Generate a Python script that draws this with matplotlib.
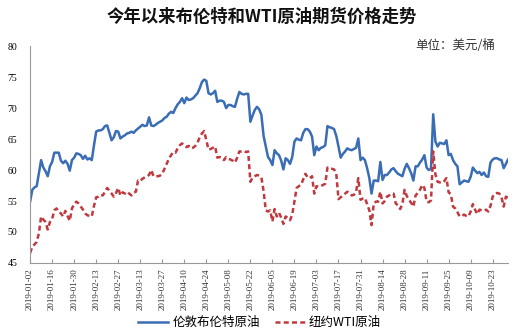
import numpy as np
import pandas as pd
import matplotlib
matplotlib.use('Agg')
import matplotlib.pyplot as plt

plt.rcParams['font.family'] = ['Noto Sans CJK SC', 'DejaVu Sans']

# trading days (weekdays) from 2019-01-02
dates = pd.bdate_range('2019-01-02', periods=218)

brent = [
    54.9, 56.8, 57.2, 57.4, 59.5, 61.6, 60.4, 59.8, 59.0, 60.6,
    61.3, 62.8, 62.8, 62.8, 61.5, 61.1, 61.5, 61.0, 59.9, 61.6,
    62.0, 62.7, 62.6, 62.4, 61.8, 62.3, 61.7, 61.9, 61.6, 64.0,
    66.2, 66.4, 66.4, 66.6, 67.1, 67.2, 66.0, 64.8, 65.3, 66.3,
    66.2, 65.1, 65.4, 65.6, 65.9, 66.0, 66.2, 66.0, 66.4, 66.7,
    67.0, 67.3, 67.1, 67.2, 68.5, 67.2, 67.1, 67.3, 67.6, 67.8,
    68.0, 68.4, 68.6, 69.1, 69.4, 69.2, 70.0, 70.6, 71.0, 71.6,
    70.8, 71.7, 71.3, 71.4, 71.6, 72.0, 72.4, 73.2, 74.2, 74.6,
    74.4, 72.4, 72.2, 72.4, 72.8, 71.0, 71.2, 71.2, 71.0, 70.0,
    70.5, 70.5, 70.3, 70.2, 71.5, 72.6, 72.3, 72.2, 72.3, 72.3,
    67.8, 68.8, 69.7, 70.2, 69.8, 68.9, 65.5, 63.8, 62.1, 61.6,
    60.8, 63.2, 62.7, 62.4, 61.5, 60.1, 61.9, 61.6, 61.0, 62.1,
    64.6, 65.1, 64.9, 64.8, 66.0, 66.6, 66.6, 66.2, 65.4, 62.4,
    63.8, 63.2, 63.6, 63.7, 64.0, 67.1, 66.9, 66.8, 66.6, 65.5,
    63.8, 62.0, 62.6, 63.0, 63.5, 63.3, 63.2, 63.4, 63.6, 65.1,
    61.6, 62.0, 61.6, 60.3, 58.7, 56.2, 58.3, 58.3, 58.2, 61.3,
    58.4, 59.2, 59.2, 59.6, 60.1, 60.3, 59.8, 59.4, 59.2, 59.0,
    60.2, 61.0, 60.3, 59.5, 58.3, 60.6, 60.6, 61.2, 61.7, 62.4,
    60.4, 60.0, 60.2, 69.0, 64.6, 63.8, 64.4, 64.3, 64.2, 64.8,
    62.4, 62.6, 61.6, 61.0, 60.6, 57.7, 58.0, 58.3, 58.2, 58.1,
    58.9, 60.4, 59.9, 59.5, 59.7, 59.2, 59.6, 59.0, 58.9, 61.2,
    61.7, 61.9, 61.9, 61.7, 61.6, 60.3, 61.0, 61.7,
]

wti = [
    46.6, 47.6, 48.0, 48.4, 49.8, 52.5, 52.0, 51.6, 50.4, 51.6,
    52.1, 53.5, 53.8, 53.2, 53.0, 52.5, 53.4, 52.6, 51.8, 53.8,
    54.5, 54.9, 54.6, 54.1, 53.6, 53.0, 52.7, 52.6, 52.5, 54.2,
    55.6, 55.7, 56.0, 55.9, 56.5, 57.1, 56.7, 56.2, 55.7, 56.3,
    57.1, 55.9, 56.4, 56.2, 56.5, 56.2, 55.9, 56.3, 56.5, 58.3,
    58.2, 58.6, 58.8, 59.0, 59.2, 60.0, 59.0, 59.0, 59.0, 59.1,
    59.4, 60.2, 61.0, 61.8, 62.4, 62.9, 62.8, 63.5, 64.0, 64.3,
    64.0, 63.7, 63.9, 63.5, 63.6, 63.9, 64.4, 65.3, 65.9, 66.3,
    64.8, 63.3, 63.4, 63.6, 63.8, 62.0, 62.1, 62.0, 61.6, 62.1,
    61.8, 61.7, 61.5, 61.2, 62.0, 63.0, 63.0, 63.1, 62.9, 63.0,
    58.1, 58.8, 59.0, 59.2, 59.1, 58.8, 56.6, 53.5, 53.3, 53.5,
    51.7, 53.7, 52.5, 53.1, 52.3, 51.3, 52.5, 52.3, 51.9, 52.8,
    55.0, 57.1, 57.4, 57.6, 58.5, 59.4, 58.8, 58.7, 59.0, 56.2,
    57.4, 57.3, 57.4, 57.6, 57.8, 60.4, 60.2, 60.2, 60.1, 59.4,
    55.3, 55.6, 55.9, 56.2, 56.5, 56.3, 55.9, 56.0, 56.5, 58.7,
    55.2, 55.4, 55.5, 54.5, 53.5, 51.1, 54.6, 54.9, 54.9, 56.5,
    54.6, 55.0, 55.7, 55.9, 56.2, 56.2, 54.6, 54.3, 53.7, 54.5,
    56.8, 55.8, 55.2, 54.7, 54.1, 55.9, 56.3, 56.8, 57.6, 57.1,
    54.9, 54.8, 55.1, 63.0, 59.3, 58.1, 58.0, 57.9, 58.2, 58.7,
    56.4, 56.1, 54.1, 53.8, 53.2, 52.5, 52.6, 52.8, 52.6, 52.5,
    53.3, 54.5, 53.6, 52.9, 53.6, 53.5, 53.4, 53.6, 53.3, 54.2,
    55.7, 56.2, 56.3, 56.2, 55.6, 54.1, 55.7, 55.5,
]

x = np.arange(len(dates))

fig = plt.figure(figsize=(5.19, 3.32), dpi=100)
ax = fig.add_axes([0.058, 0.208, 0.921, 0.653])

ax.plot(x, brent, color='#3a6db5', lw=1.8, label='伦敦布伦特原油')
ax.plot(x, wti, color='#c0393f', lw=1.8, ls=(0, (2.0, 1.3)), label='纽约WTI原油')

ax.set_xlim(0, 217)
ax.set_ylim(45, 80)
ax.set_yticks(range(45, 81, 5))
ax.tick_params(axis='y', length=0, pad=9, labelsize=7)
for lab in ax.get_yticklabels():
    lab.set_family('Liberation Serif')

ticks = x[::10]
ax.set_xticks(ticks)
ax.set_xticklabels([dates[i].strftime('%Y-%m-%d') for i in ticks], rotation=90,
                   fontsize=6.5, family='Liberation Serif', color='#333333')
ax.tick_params(axis='x', direction='in', length=3, color='#999999', pad=4)

for s in ['top', 'right']:
    ax.spines[s].set_visible(False)
for s in ['left', 'bottom']:
    ax.spines[s].set_color('#999999')
    ax.spines[s].set_linewidth(0.8)

fig.text(0.505, 0.95, '今年以来布伦特和WTI原油期货价格走势', ha='center', va='center',
         fontsize=12.5, fontweight='bold', color='#111111')
fig.text(0.955, 0.862, '单位：美元/桶', ha='right', va='center', fontsize=9, color='#333333')

fig.legend(loc='lower center', bbox_to_anchor=(0.5, -0.025), ncol=2, frameon=False,
           fontsize=9, handlelength=2.4, columnspacing=1.2, handletextpad=0.3)

fig.savefig('out.png', dpi=100)
